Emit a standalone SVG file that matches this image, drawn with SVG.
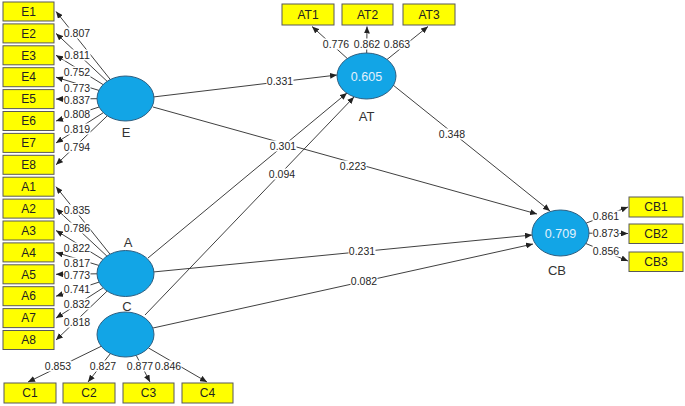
<svg xmlns="http://www.w3.org/2000/svg" width="685" height="406" viewBox="0 0 685 406">
<defs>
<marker id="ah" markerUnits="userSpaceOnUse" markerWidth="7" markerHeight="6" refX="7" refY="3" orient="auto"><path d="M0,0 L7,3 L0,6 z" fill="#222"/></marker>
<style>
.ind rect{fill:#FFFF00;stroke:#595959;stroke-width:1}
.ind text{font-family:"Liberation Sans",Arial,sans-serif;font-size:12px;fill:#222;text-anchor:middle}
.lv ellipse{fill:#12A5E6;stroke:#2D5E80;stroke-width:1}
.lv text.v{font-family:"Liberation Sans",Arial,sans-serif;font-size:12.5px;fill:#E2F1FC;text-anchor:middle}
.lv text.n{font-family:"Liberation Sans",Arial,sans-serif;font-size:13px;fill:#333;text-anchor:middle}
.c line{stroke:#2a2a2a;stroke-width:0.9;marker-end:url(#ah)}
.lb rect{fill:#fff}
.lb text{font-family:"Liberation Sans",Arial,sans-serif;font-size:10.5px;fill:#262626;text-anchor:middle}
</style>
</defs>
<rect width="685" height="406" fill="#fff"/>
<g id="connectors" class="c">
<line x1="110.3" y1="79.5" x2="56" y2="11.5"/>
<line x1="107.1" y1="81.3" x2="56" y2="33.4"/>
<line x1="103.1" y1="84.6" x2="56" y2="55.3"/>
<line x1="98.9" y1="90.4" x2="56" y2="77.2"/>
<line x1="97" y1="98.7" x2="56" y2="99.1"/>
<line x1="99.1" y1="107" x2="56" y2="121"/>
<line x1="103.3" y1="112.7" x2="56" y2="142.9"/>
<line x1="107.3" y1="115.8" x2="56" y2="164.8"/>
<line x1="110" y1="254.2" x2="56" y2="186.7"/>
<line x1="106.9" y1="256.1" x2="56" y2="208.6"/>
<line x1="102.9" y1="259.5" x2="56" y2="230.5"/>
<line x1="98.8" y1="265.4" x2="56" y2="252.4"/>
<line x1="97" y1="273.8" x2="56" y2="274.3"/>
<line x1="99.1" y1="282.1" x2="56" y2="296.2"/>
<line x1="103.2" y1="287.8" x2="56" y2="318.1"/>
<line x1="107.1" y1="291.1" x2="56" y2="340"/>
<line x1="101.2" y1="346.3" x2="28" y2="382"/>
<line x1="110.4" y1="353.6" x2="88" y2="382"/>
<line x1="136.2" y1="355.3" x2="150" y2="382"/>
<line x1="148.4" y1="347.9" x2="207" y2="382"/>
<line x1="347.3" y1="58.5" x2="312" y2="26.5"/>
<line x1="366.7" y1="53" x2="367" y2="26.5"/>
<line x1="387" y1="59.5" x2="428" y2="26.5"/>
<line x1="586.2" y1="223.1" x2="628" y2="207"/>
<line x1="589" y1="233.2" x2="628" y2="233.5"/>
<line x1="585.8" y1="243.5" x2="628" y2="261"/>
<line x1="153" y1="97" x2="337" y2="75"/>
<line x1="153" y1="107" x2="537" y2="214"/>
<line x1="148" y1="258" x2="347" y2="93"/>
<line x1="145" y1="315" x2="354" y2="97"/>
<line x1="393" y1="85" x2="550" y2="211"/>
<line x1="153" y1="272" x2="532" y2="235"/>
<line x1="153" y1="328" x2="533" y2="244"/>
</g>
<g id="labels" class="lb">
<rect x="63.5" y="27.5" width="27" height="11"/><text x="77" y="36.5">0.807</text>
<rect x="63.5" y="49.5" width="27" height="11"/><text x="77" y="58.5">0.811</text>
<rect x="63.5" y="66.5" width="27" height="11"/><text x="77" y="75.5">0.752</text>
<rect x="63.5" y="83" width="27" height="11"/><text x="77" y="92">0.773</text>
<rect x="63.5" y="94.5" width="27" height="11"/><text x="77" y="103.5">0.837</text>
<rect x="63.5" y="108.5" width="27" height="11"/><text x="77" y="117.5">0.808</text>
<rect x="63.5" y="123.5" width="27" height="11"/><text x="77" y="132.5">0.819</text>
<rect x="63.5" y="141.5" width="27" height="11"/><text x="77" y="150.5">0.794</text>
<rect x="63.5" y="204.5" width="27" height="11"/><text x="77" y="213.5">0.835</text>
<rect x="63.5" y="222.5" width="27" height="11"/><text x="77" y="231.5">0.786</text>
<rect x="63.5" y="242.5" width="27" height="11"/><text x="77" y="251.5">0.822</text>
<rect x="63.5" y="257.5" width="27" height="11"/><text x="77" y="266.5">0.817</text>
<rect x="63.5" y="269.5" width="27" height="11"/><text x="77" y="278.5">0.773</text>
<rect x="63.5" y="283.5" width="27" height="11"/><text x="77" y="292.5">0.741</text>
<rect x="63.5" y="298.5" width="27" height="11"/><text x="77" y="307.5">0.832</text>
<rect x="63.5" y="316.5" width="27" height="11"/><text x="77" y="325.5">0.818</text>
<rect x="44.5" y="360.5" width="27" height="11"/><text x="58" y="369.5">0.853</text>
<rect x="89.5" y="360.5" width="27" height="11"/><text x="103" y="369.5">0.827</text>
<rect x="126.5" y="360.5" width="27" height="11"/><text x="140" y="369.5">0.877</text>
<rect x="154.5" y="360.5" width="27" height="11"/><text x="168" y="369.5">0.846</text>
<rect x="322.5" y="38.5" width="27" height="11"/><text x="336" y="47.5">0.776</text>
<rect x="353.5" y="38.5" width="27" height="11"/><text x="367" y="47.5">0.862</text>
<rect x="383.5" y="38.5" width="27" height="11"/><text x="397" y="47.5">0.863</text>
<rect x="592.5" y="210.5" width="27" height="11"/><text x="606" y="219.5">0.861</text>
<rect x="592.5" y="227.5" width="27" height="11"/><text x="606" y="236.5">0.873</text>
<rect x="592.5" y="245.5" width="27" height="11"/><text x="606" y="254.5">0.856</text>
<rect x="266.5" y="75.5" width="27" height="11"/><text x="280" y="84.5">0.331</text>
<rect x="269.5" y="140.5" width="27" height="11"/><text x="283" y="149.5">0.301</text>
<rect x="339.5" y="160.5" width="27" height="11"/><text x="353" y="169.5">0.223</text>
<rect x="268.5" y="168.5" width="27" height="11"/><text x="282" y="177.5">0.094</text>
<rect x="438.5" y="128.5" width="27" height="11"/><text x="452" y="137.5">0.348</text>
<rect x="348.5" y="246" width="27" height="11"/><text x="362" y="255">0.231</text>
<rect x="350.5" y="276" width="27" height="11"/><text x="364" y="285">0.082</text>
</g>
<g id="E1" class="ind"><rect x="3" y="2" width="51" height="19"/><text x="28.5" y="15.7">E1</text></g>
<g id="E2" class="ind"><rect x="3" y="23.9" width="51" height="19"/><text x="28.5" y="37.6">E2</text></g>
<g id="E3" class="ind"><rect x="3" y="45.8" width="51" height="19"/><text x="28.5" y="59.5">E3</text></g>
<g id="E4" class="ind"><rect x="3" y="67.7" width="51" height="19"/><text x="28.5" y="81.4">E4</text></g>
<g id="E5" class="ind"><rect x="3" y="89.6" width="51" height="19"/><text x="28.5" y="103.3">E5</text></g>
<g id="E6" class="ind"><rect x="3" y="111.5" width="51" height="19"/><text x="28.5" y="125.2">E6</text></g>
<g id="E7" class="ind"><rect x="3" y="133.4" width="51" height="19"/><text x="28.5" y="147.1">E7</text></g>
<g id="E8" class="ind"><rect x="3" y="155.3" width="51" height="19"/><text x="28.5" y="169">E8</text></g>
<g id="A1" class="ind"><rect x="3" y="177.2" width="51" height="19"/><text x="28.5" y="190.9">A1</text></g>
<g id="A2" class="ind"><rect x="3" y="199.1" width="51" height="19"/><text x="28.5" y="212.8">A2</text></g>
<g id="A3" class="ind"><rect x="3" y="221" width="51" height="19"/><text x="28.5" y="234.7">A3</text></g>
<g id="A4" class="ind"><rect x="3" y="242.9" width="51" height="19"/><text x="28.5" y="256.6">A4</text></g>
<g id="A5" class="ind"><rect x="3" y="264.8" width="51" height="19"/><text x="28.5" y="278.5">A5</text></g>
<g id="A6" class="ind"><rect x="3" y="286.7" width="51" height="19"/><text x="28.5" y="300.4">A6</text></g>
<g id="A7" class="ind"><rect x="3" y="308.6" width="51" height="19"/><text x="28.5" y="322.3">A7</text></g>
<g id="A8" class="ind"><rect x="3" y="330.5" width="51" height="19"/><text x="28.5" y="344.2">A8</text></g>
<g id="C1" class="ind"><rect x="4" y="383" width="52" height="20"/><text x="30" y="397.2">C1</text></g>
<g id="C2" class="ind"><rect x="63" y="383" width="52" height="20"/><text x="89" y="397.2">C2</text></g>
<g id="C3" class="ind"><rect x="123" y="383" width="51" height="20"/><text x="148.5" y="397.2">C3</text></g>
<g id="C4" class="ind"><rect x="182" y="383" width="51" height="20"/><text x="207.5" y="397.2">C4</text></g>
<g id="AT1" class="ind"><rect x="282" y="4" width="52" height="21"/><text x="308" y="18.7">AT1</text></g>
<g id="AT2" class="ind"><rect x="342" y="4" width="51" height="21"/><text x="367.5" y="18.7">AT2</text></g>
<g id="AT3" class="ind"><rect x="403" y="4" width="52" height="21"/><text x="429" y="18.7">AT3</text></g>
<g id="CB1" class="ind"><rect x="629" y="197" width="54" height="20"/><text x="656" y="211.2">CB1</text></g>
<g id="CB2" class="ind"><rect x="629" y="224" width="54" height="19.5"/><text x="656" y="238">CB2</text></g>
<g id="CB3" class="ind"><rect x="629" y="252" width="54" height="19.5"/><text x="656" y="266">CB3</text></g>
<g id="E" class="lv"><ellipse cx="125.5" cy="98.5" rx="28.5" ry="22.5"/><text class="n" x="126" y="137">E</text></g>
<g id="A" class="lv"><ellipse cx="125.5" cy="273.5" rx="28.5" ry="23"/><text class="n" x="128" y="247">A</text></g>
<g id="C" class="lv"><ellipse cx="125.5" cy="334.5" rx="28.5" ry="22.5"/><text class="n" x="127" y="311">C</text></g>
<g id="AT" class="lv"><ellipse cx="366.5" cy="76" rx="29.5" ry="23"/><text class="v" x="366.5" y="80.5">0.605</text><text class="n" x="366.5" y="120.5">AT</text></g>
<g id="CB" class="lv"><ellipse cx="560.5" cy="233" rx="28.5" ry="23"/><text class="v" x="560.5" y="237.5">0.709</text><text class="n" x="557" y="274.5">CB</text></g>
</svg>
